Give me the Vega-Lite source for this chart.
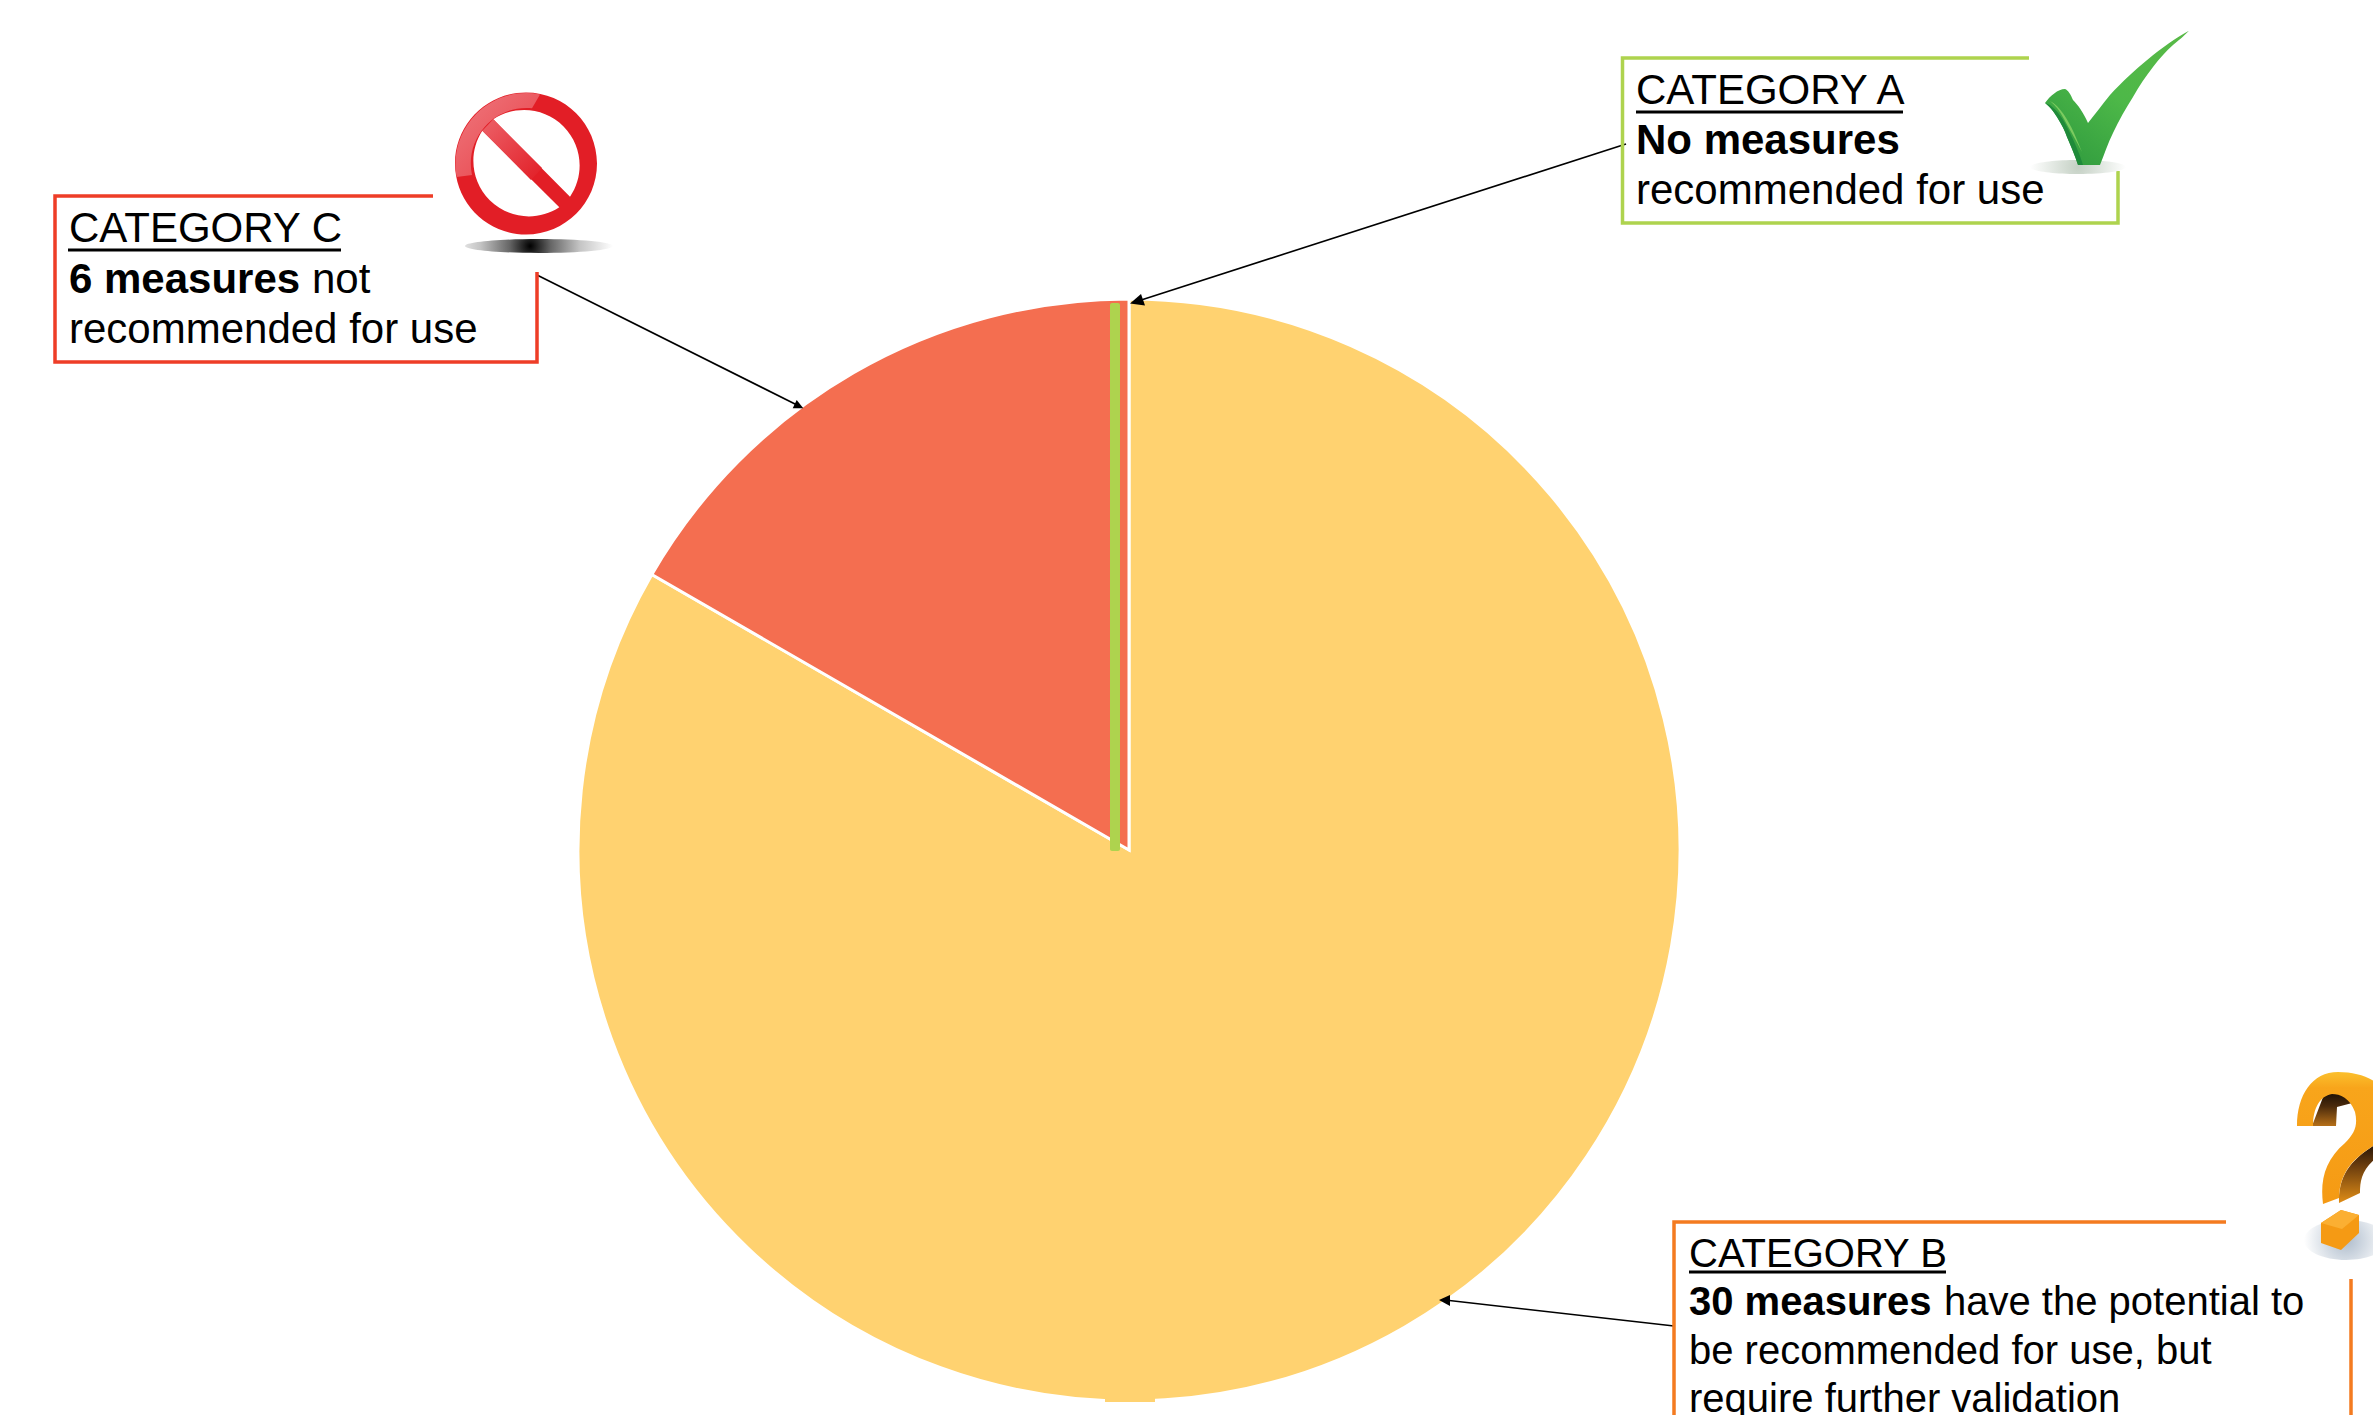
{
  "$schema": "https://vega.github.io/schema/vega-lite/v6.json",
  "width": 2373, "height": 1415, "padding": 0,
  "autosize": {"type": "none"},
  "background": "#ffffff",
  "view": {"stroke": null},
  "config": {"axis": {"disable": true}, "text": {"font": "Liberation Sans", "baseline": "alphabetic", "align": "left", "color": "#000000"}},
  "datasets": {
    "measures": [
      {"category": "Category A", "measures": 0},
      {"category": "Category B", "measures": 30},
      {"category": "Category C", "measures": 6}
    ],
    "note": [{"kind": "annotation"}]
  },
  "data": {"name": "note"},
  "layer": [
    {
      "data": {"name": "measures"},
      "mark": {"type": "arc", "outerRadius": 551, "stroke": "#ffffff", "strokeWidth": 3},
      "encoding": {
        "theta": {"field": "measures", "type": "quantitative", "stack": true, "scale": {"domain": [0, 36]}},
        "color": {"field": "category", "type": "nominal", "legend": null, "scale": {"domain": ["Category A", "Category B", "Category C"], "range": ["#AED34E", "#FFD270", "#F46E50"]}},
        "x": {"datum": 1129, "type": "quantitative", "scale": {"domain": [0, 2373], "nice": false, "zero": false}},
        "y": {"datum": 850, "type": "quantitative", "scale": {"domain": [0, 1415], "reverse": true, "nice": false, "zero": false}}
      }
    },
    {"mark": {"type": "rect", "color": "#FFD270"}, "encoding": {"x": {"datum": 1105, "type": "quantitative"}, "x2": {"datum": 1155}, "y": {"datum": 1392, "type": "quantitative"}, "y2": {"datum": 1402}}},
    {"mark": {"type": "rect", "color": "#AED34E", "cornerRadius": 2}, "encoding": {"x": {"datum": 1110, "type": "quantitative"}, "x2": {"datum": 1120}, "y": {"datum": 303, "type": "quantitative"}, "y2": {"datum": 851}}},

    {"mark": {"type": "rule", "color": "#000000", "strokeWidth": 1.6}, "encoding": {"x": {"datum": 1626, "type": "quantitative"}, "y": {"datum": 144, "type": "quantitative"}, "x2": {"datum": 1135}, "y2": {"datum": 302}}},
    {"mark": {"type": "rule", "color": "#000000", "strokeWidth": 1.6}, "encoding": {"x": {"datum": 537, "type": "quantitative"}, "y": {"datum": 275, "type": "quantitative"}, "x2": {"datum": 797}, "y2": {"datum": 405}}},
    {"mark": {"type": "rule", "color": "#000000", "strokeWidth": 1.6}, "encoding": {"x": {"datum": 1674, "type": "quantitative"}, "y": {"datum": 1326, "type": "quantitative"}, "x2": {"datum": 1445}, "y2": {"datum": 1300}}},

    {"mark": {"type": "point", "filled": true, "opacity": 1, "size": 4, "fill": "#000000", "strokeWidth": 0, "shape": "M1130,303.5L1145,305.5L1141,294Z"}, "encoding": {"x": {"datum": 0, "type": "quantitative"}, "y": {"datum": 0, "type": "quantitative"}}},
    {"mark": {"type": "point", "filled": true, "opacity": 1, "size": 4, "fill": "#000000", "strokeWidth": 0, "shape": "M803.3,408.3L792.7,408.3L796.7,400Z"}, "encoding": {"x": {"datum": 0, "type": "quantitative"}, "y": {"datum": 0, "type": "quantitative"}}},
    {"mark": {"type": "point", "filled": true, "opacity": 1, "size": 4, "fill": "#000000", "strokeWidth": 0, "shape": "M1439,1300L1450,1295L1450,1306Z"}, "encoding": {"x": {"datum": 0, "type": "quantitative"}, "y": {"datum": 0, "type": "quantitative"}}},

    {"mark": {"type": "point", "filled": false, "opacity": 1, "size": 4, "stroke": "#AED34E", "strokeWidth": 3.5, "shape": "M2029,58L1622.5,58L1622.5,223L2118,223L2118,171"}, "encoding": {"x": {"datum": 0, "type": "quantitative"}, "y": {"datum": 0, "type": "quantitative"}}},
    {"mark": {"type": "point", "filled": false, "opacity": 1, "size": 4, "stroke": "#EE3D27", "strokeWidth": 3.5, "shape": "M433,196L55,196L55,362L537,362L537,272"}, "encoding": {"x": {"datum": 0, "type": "quantitative"}, "y": {"datum": 0, "type": "quantitative"}}},
    {"mark": {"type": "point", "filled": false, "opacity": 1, "size": 4, "stroke": "#F47B20", "strokeWidth": 3.5, "shape": "M2226,1222L1674,1222L1674,1430M2351,1279L2351,1430"}, "encoding": {"x": {"datum": 0, "type": "quantitative"}, "y": {"datum": 0, "type": "quantitative"}}},

    {"mark": {"type": "text", "fontSize": 42, "text": "CATEGORY A"}, "encoding": {"x": {"datum": 1636, "type": "quantitative"}, "y": {"datum": 104, "type": "quantitative"}}},
    {"mark": {"type": "rule", "color": "#000000", "strokeWidth": 3}, "encoding": {"x": {"datum": 1636, "type": "quantitative"}, "x2": {"datum": 1903}, "y": {"datum": 112, "type": "quantitative"}}},
    {"mark": {"type": "text", "fontSize": 42, "fontWeight": "bold", "text": "No measures"}, "encoding": {"x": {"datum": 1636, "type": "quantitative"}, "y": {"datum": 154, "type": "quantitative"}}},
    {"mark": {"type": "text", "fontSize": 42, "text": "recommended for use"}, "encoding": {"x": {"datum": 1636, "type": "quantitative"}, "y": {"datum": 204, "type": "quantitative"}}},

    {"mark": {"type": "text", "fontSize": 42, "text": "CATEGORY C"}, "encoding": {"x": {"datum": 69, "type": "quantitative"}, "y": {"datum": 242, "type": "quantitative"}}},
    {"mark": {"type": "rule", "color": "#000000", "strokeWidth": 3}, "encoding": {"x": {"datum": 68, "type": "quantitative"}, "x2": {"datum": 341}, "y": {"datum": 250, "type": "quantitative"}}},
    {"mark": {"type": "text", "fontSize": 42, "fontWeight": "bold", "text": "6 measures"}, "encoding": {"x": {"datum": 69, "type": "quantitative"}, "y": {"datum": 293, "type": "quantitative"}}},
    {"mark": {"type": "text", "fontSize": 42, "text": "not"}, "encoding": {"x": {"datum": 312, "type": "quantitative"}, "y": {"datum": 293, "type": "quantitative"}}},
    {"mark": {"type": "text", "fontSize": 42, "text": "recommended for use"}, "encoding": {"x": {"datum": 69, "type": "quantitative"}, "y": {"datum": 343, "type": "quantitative"}}},

    {"mark": {"type": "text", "fontSize": 40, "text": "CATEGORY B"}, "encoding": {"x": {"datum": 1689, "type": "quantitative"}, "y": {"datum": 1267, "type": "quantitative"}}},
    {"mark": {"type": "rule", "color": "#000000", "strokeWidth": 3}, "encoding": {"x": {"datum": 1689, "type": "quantitative"}, "x2": {"datum": 1946}, "y": {"datum": 1272, "type": "quantitative"}}},
    {"mark": {"type": "text", "fontSize": 40, "fontWeight": "bold", "text": "30 measures"}, "encoding": {"x": {"datum": 1689, "type": "quantitative"}, "y": {"datum": 1315, "type": "quantitative"}}},
    {"mark": {"type": "text", "fontSize": 40, "text": "have the potential to"}, "encoding": {"x": {"datum": 1944, "type": "quantitative"}, "y": {"datum": 1315, "type": "quantitative"}}},
    {"mark": {"type": "text", "fontSize": 40, "text": "be recommended for use, but"}, "encoding": {"x": {"datum": 1689, "type": "quantitative"}, "y": {"datum": 1364, "type": "quantitative"}}},
    {"mark": {"type": "text", "fontSize": 40, "text": "require further validation"}, "encoding": {"x": {"datum": 1689, "type": "quantitative"}, "y": {"datum": 1412, "type": "quantitative"}}},

    {"mark": {"type": "point", "filled": true, "opacity": 1, "size": 4, "strokeWidth": 0, "fill": {"gradient": "radial", "x1": 0.5, "y1": 0.5, "r1": 0, "x2": 0.5, "y2": 0.5, "r2": 0.5, "stops": [{"offset": 0, "color": "#c4d0c4"}, {"offset": 1, "color": "#ffffff"}]}, "shape": "M2030,167A48,7 0 1,1 2126,167A48,7 0 1,1 2030,167Z"}, "encoding": {"x": {"datum": 0, "type": "quantitative"}, "y": {"datum": 0, "type": "quantitative"}}},
    {"mark": {"type": "point", "filled": true, "opacity": 1, "size": 4, "strokeWidth": 0, "fill": {"gradient": "linear", "x1": 0.9, "y1": 0, "x2": 0.1, "y2": 1, "stops": [{"offset": 0, "color": "#58B947"}, {"offset": 0.5, "color": "#4DB848"}, {"offset": 1, "color": "#2F9A3E"}]}, "shape": "M2189,30.7C2163,45 2133,70 2110,95C2102,105 2095,114 2088,123C2083,112 2078,105 2073,100C2071,95 2068,90 2065,89C2058,89 2050,96 2045,103C2051,108 2054,112 2057,117C2062,125 2065,131 2067,137C2071,146 2075,156 2078,165L2100,165C2104,155 2108,143 2113,133C2119,120 2126,108 2133,97C2139,86 2146,76 2153,67C2160,58 2166,51 2173,45C2179,40 2185,35 2189,30.7Z"}, "encoding": {"x": {"datum": 0, "type": "quantitative"}, "y": {"datum": 0, "type": "quantitative"}}},
    {"mark": {"type": "point", "filled": true, "opacity": 1, "size": 4, "strokeWidth": 0, "fill": "#7CCB60", "shape": "M2050,101C2060,106 2068,120 2074,133C2077,140 2080,147 2082,152C2077,142 2070,130 2064,119C2060,111 2055,105 2050,101Z"}, "encoding": {"x": {"datum": 0, "type": "quantitative"}, "y": {"datum": 0, "type": "quantitative"}}},
    {"mark": {"type": "point", "filled": true, "opacity": 1, "size": 4, "strokeWidth": 0, "fill": "#1F8A3A", "shape": "M2045,103C2051,108 2054,112 2057,117C2062,125 2065,131 2067,137C2071,146 2075,156 2078,165L2083,165C2079,152 2074,141 2069,131C2064,120 2058,111 2050,105Z"}, "encoding": {"x": {"datum": 0, "type": "quantitative"}, "y": {"datum": 0, "type": "quantitative"}}},

    {"mark": {"type": "point", "filled": true, "opacity": 1, "size": 4, "strokeWidth": 0, "fill": {"gradient": "radial", "x1": 0.44, "y1": 0.5, "r1": 0, "x2": 0.44, "y2": 0.5, "r2": 0.56, "stops": [{"offset": 0, "color": "#000000"}, {"offset": 0.25, "color": "#666666"}, {"offset": 0.6, "color": "#c4c4c4"}, {"offset": 1, "color": "#ffffff"}]}, "shape": "M465,246A74,7 0 1,1 613,246A74,7 0 1,1 465,246Z"}, "encoding": {"x": {"datum": 0, "type": "quantitative"}, "y": {"datum": 0, "type": "quantitative"}}},
    {"mark": {"type": "point", "filled": true, "opacity": 1, "size": 4, "strokeWidth": 0, "fill": "#E21E26", "shape": "M455,163.5A71,71 0 1,1 597,163.5A71,71 0 1,1 455,163.5ZM482.3,130.7A55.5,55.5 0 0,0 559.3,207.3ZM570,196.7A55.5,55.5 0 0,0 493.3,119.3Z"}, "encoding": {"x": {"datum": 0, "type": "quantitative"}, "y": {"datum": 0, "type": "quantitative"}}},
    {"mark": {"type": "point", "filled": true, "opacity": 1, "size": 4, "strokeWidth": 0, "fill": {"gradient": "linear", "x1": 0.1, "y1": 0.1, "x2": 0.9, "y2": 0.9, "stops": [{"offset": 0, "color": "#EE7379"}, {"offset": 1, "color": "#E8434A"}]}, "shape": "M540,94.4A71,71 0 0,0 456.6,177L472,175A55.5,55.5 0 0,1 532,108.3Z"}, "encoding": {"x": {"datum": 0, "type": "quantitative"}, "y": {"datum": 0, "type": "quantitative"}}},
    {"mark": {"type": "point", "filled": true, "opacity": 1, "size": 4, "strokeWidth": 0, "fill": {"gradient": "linear", "x1": 0, "y1": 0, "x2": 1, "y2": 1, "stops": [{"offset": 0, "color": "#EC6168"}, {"offset": 1, "color": "#E21E26"}]}, "shape": "M482.3,130.7L493.3,119.3L542,168L531,180Z"}, "encoding": {"x": {"datum": 0, "type": "quantitative"}, "y": {"datum": 0, "type": "quantitative"}}},

    {"mark": {"type": "point", "filled": true, "opacity": 1, "size": 4, "strokeWidth": 0, "fill": {"gradient": "radial", "x1": 0.5, "y1": 0.5, "r1": 0, "x2": 0.5, "y2": 0.5, "r2": 0.5, "stops": [{"offset": 0, "color": "#aebccc"}, {"offset": 1, "color": "#ffffff"}]}, "shape": "M2304,1240A42,20 0 1,1 2388,1240A42,20 0 1,1 2304,1240Z"}, "encoding": {"x": {"datum": 0, "type": "quantitative"}, "y": {"datum": 0, "type": "quantitative"}}},
    {"mark": {"type": "point", "filled": true, "opacity": 1, "size": 4, "strokeWidth": 0, "fill": {"gradient": "linear", "x1": 0, "y1": 0, "x2": 0, "y2": 1, "stops": [{"offset": 0, "color": "#140B04"}, {"offset": 0.45, "color": "#4A2A0C"}, {"offset": 1, "color": "#B56F18"}]}, "shape": "M2312,1126L2336,1126L2337,1107L2356,1102L2345,1090L2325,1092Z"}, "encoding": {"x": {"datum": 0, "type": "quantitative"}, "y": {"datum": 0, "type": "quantitative"}}},
    {"mark": {"type": "point", "filled": true, "opacity": 1, "size": 4, "strokeWidth": 0, "fill": {"gradient": "linear", "x1": 0.5, "y1": 0, "x2": 0.5, "y2": 1, "stops": [{"offset": 0, "color": "#2A1606"}, {"offset": 0.35, "color": "#6B3D0E"}, {"offset": 1, "color": "#E08D16"}]}, "shape": "M2339,1203C2338,1172 2355,1158 2373,1146L2380,1155C2362,1168 2360,1180 2360,1193Z"}, "encoding": {"x": {"datum": 0, "type": "quantitative"}, "y": {"datum": 0, "type": "quantitative"}}},
    {"mark": {"type": "point", "filled": true, "opacity": 1, "size": 4, "strokeWidth": 0, "fill": {"gradient": "linear", "x1": 0.5, "y1": 0, "x2": 0.5, "y2": 1, "stops": [{"offset": 0, "color": "#FBC02D"}, {"offset": 0.12, "color": "#F8A51B"}, {"offset": 1, "color": "#F59A14"}]}, "shape": "M2297,1126C2297,1095 2312,1072 2338,1072C2358,1072 2373,1078 2385,1090C2395,1105 2390,1135 2373,1146C2355,1158 2340,1170 2339,1198L2323,1204C2320,1180 2325,1160 2345,1143C2355,1133 2358,1125 2355,1112C2350,1098 2340,1094 2332,1094C2320,1096 2313,1108 2313,1126Z"}, "encoding": {"x": {"datum": 0, "type": "quantitative"}, "y": {"datum": 0, "type": "quantitative"}}},
    {"mark": {"type": "point", "filled": true, "opacity": 1, "size": 4, "strokeWidth": 0, "fill": "#F59A14", "shape": "M2321,1223L2341,1210L2359,1215L2359,1233L2341,1250L2321,1243Z"}, "encoding": {"x": {"datum": 0, "type": "quantitative"}, "y": {"datum": 0, "type": "quantitative"}}},
    {"mark": {"type": "point", "filled": true, "opacity": 1, "size": 4, "strokeWidth": 0, "fill": "#FBAF32", "shape": "M2321,1223L2341,1210L2359,1215L2342,1229Z"}, "encoding": {"x": {"datum": 0, "type": "quantitative"}, "y": {"datum": 0, "type": "quantitative"}}}
  ]
}
